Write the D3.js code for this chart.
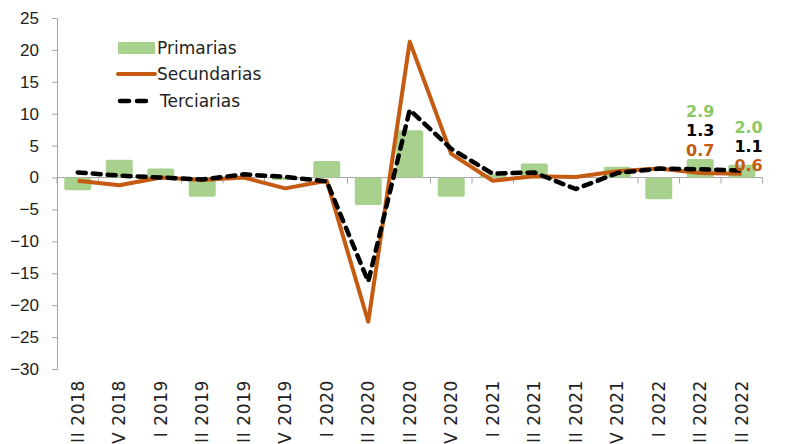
<!DOCTYPE html>
<html>
<head>
<meta charset="utf-8">
<script src="https://cdn.jsdelivr.net/npm/d3@7"></script>
<style>
  body { margin: 0; background: #fff; }
  svg { display: block; font-family: "DejaVu Sans", sans-serif; }
</style>
</head>
<body>
<div id="chart"></div>
<script>
var categories = ["III 2018", "IV 2018", "I 2019", "II 2019", "III 2019", "IV 2019",
                  "I 2020", "II 2020", "III 2020", "IV 2020", "I 2021", "II 2021",
                  "III 2021", "IV 2021", "I 2022", "II 2022", "III 2022"];
var primarias   = [-2.0, 2.8, 1.4, -3.0, 0.0, -0.4, 2.6, -4.3, 7.4, -3.0, 0.5, 2.2, 0.0, 1.7, -3.4, 2.9, 2.0];
var secundarias = [-0.5, -1.2, 0.0, -0.4, 0.0, -1.7, -0.5, -22.6, 21.3, 3.7, -0.5, 0.2, 0.1, 1.0, 1.4, 0.7, 0.6];
var terciarias  = [0.8, 0.3, 0.0, -0.3, 0.5, 0.1, -0.6, -16.3, 10.6, 4.5, 0.6, 0.8, -1.8, 0.7, 1.4, 1.3, 1.1];
var yTicks = [25, 20, 15, 10, 5, 0, -5, -10, -15, -20, -25, -30];
var title = "(variación anual, en %)";

var width = 786, height = 444;
var margin = {top: 18, right: 24, bottom: 75, left: 57};

var svg = d3.select("#chart").append("svg")
    .attr("width", width)
    .attr("height", height);

var x = d3.scaleBand()
    .domain(categories)
    .range([margin.left, 762.5])
    .paddingInner(0.35)
    .paddingOuter(0.175);

var xc = function(d) { return x(d) + x.bandwidth() / 2; };

var y = d3.scaleLinear()
    .domain([-30, 25])
    .range([369, 18]);

// title, mostly cut off by the top edge
svg.append("text")
    .attr("x", 393).attr("y", -3)
    .attr("text-anchor", "middle")
    .style("font-size", "16px")
    .style("fill", "#333")
    .text(title);

// y axis
var yAxis = svg.append("g")
    .attr("transform", "translate(" + margin.left + ",0)")
    .call(d3.axisLeft(y).tickValues(yTicks).tickSize(5).tickPadding(13).tickFormat(d3.format("d")));
yAxis.select(".domain").attr("stroke", "#a6a6a6");
yAxis.selectAll(".tick line").attr("stroke", "#a6a6a6");
yAxis.selectAll("text").style("font-size", "17px").style("fill", "#222").attr("font-family", null);

// x axis on zero line
var xg = svg.append("g").attr("class", "xaxis");
xg.append("line")
    .attr("x1", margin.left).attr("x2", 762.5)
    .attr("y1", y(0)).attr("y2", y(0))
    .attr("stroke", "#a6a6a6");
var step = x.step();
xg.selectAll("line.tk")
    .data(d3.range(categories.length + 1))
    .enter().append("line")
    .attr("class", "tk")
    .attr("x1", function(i) { return margin.left + i * step; })
    .attr("x2", function(i) { return margin.left + i * step; })
    .attr("y1", y(0)).attr("y2", y(0) + 6)
    .attr("stroke", "#a6a6a6");

// category labels, rotated, bottoms clipped by the page edge
svg.append("g").selectAll("text")
    .data(categories)
    .enter().append("text")
    .attr("transform", function(d) { return "translate(" + (xc(d) + 6) + ",380) rotate(-90)"; })
    .attr("text-anchor", "end")
    .style("font-size", "17px")
    .style("letter-spacing", "0.6px")
    .style("fill", "#222")
    .text(function(d) { return d; });

// bars
svg.append("g").selectAll("rect")
    .data(primarias)
    .enter().append("rect")
    .attr("x", function(d, i) { return x(categories[i]); })
    .attr("y", function(d) { return y(Math.max(0, d)); })
    .attr("width", x.bandwidth())
    .attr("height", function(d) { return Math.abs(y(d) - y(0)); })
    .attr("rx", 2)
    .attr("fill", "#a9d18e");

var line = d3.line()
    .x(function(d, i) { return xc(categories[i]); })
    .y(function(d) { return y(d); });

svg.append("path")
    .datum(secundarias)
    .attr("d", line)
    .attr("fill", "none")
    .attr("stroke", "#c55a11")
    .attr("stroke-width", 4)
    .attr("stroke-linejoin", "round");

svg.append("path")
    .datum(terciarias)
    .attr("d", line)
    .attr("fill", "none")
    .attr("stroke", "#000")
    .attr("stroke-width", 4.5)
    .attr("stroke-dasharray", "8,7")
    .attr("stroke-linecap", "round")
    .attr("stroke-linejoin", "round");

// data labels for last two quarters
var n = categories.length;
var lab = svg.append("g").style("font-size", "16px").style("font-weight", "bold");
var c1 = xc(categories[n - 2]), c2 = xc(categories[n - 1]);
lab.append("text").attr("x", c1).attr("y", 117).attr("text-anchor", "middle").style("fill", "#8cc866").text(primarias[n - 2].toFixed(1));
lab.append("text").attr("x", c1).attr("y", 136).attr("text-anchor", "middle").style("fill", "#000").text(terciarias[n - 2].toFixed(1));
lab.append("text").attr("x", c1).attr("y", 156).attr("text-anchor", "middle").style("fill", "#c55a11").text(secundarias[n - 2].toFixed(1));
lab.append("text").attr("x", c2 + 21).attr("y", 133).attr("text-anchor", "end").style("fill", "#8cc866").text(primarias[n - 1].toFixed(1));
lab.append("text").attr("x", c2 + 21).attr("y", 152).attr("text-anchor", "end").style("fill", "#000").text(terciarias[n - 1].toFixed(1));
lab.append("text").attr("x", c2 + 21).attr("y", 171).attr("text-anchor", "end").style("fill", "#c55a11").text(secundarias[n - 1].toFixed(1));

// legend
var legend = svg.append("g").style("font-size", "17px");
legend.append("rect").attr("x", 118).attr("y", 42).attr("width", 37).attr("height", 12).attr("rx", 1).attr("fill", "#a9d18e");
legend.append("text").attr("x", 157).attr("y", 54).style("fill", "#222").text("Primarias");
legend.append("line").attr("x1", 118).attr("x2", 155).attr("y1", 74).attr("y2", 74)
    .attr("stroke", "#c55a11").attr("stroke-width", 4).attr("stroke-linecap", "round");
legend.append("text").attr("x", 157).attr("y", 80).style("fill", "#222").text("Secundarias");
legend.append("line").attr("x1", 120).attr("x2", 153).attr("y1", 101).attr("y2", 101)
    .attr("stroke", "#000").attr("stroke-width", 4.5).attr("stroke-dasharray", "9,8").attr("stroke-linecap", "round");
legend.append("text").attr("x", 160).attr("y", 107).style("fill", "#222").text("Terciarias");
</script>
</body>
</html>
